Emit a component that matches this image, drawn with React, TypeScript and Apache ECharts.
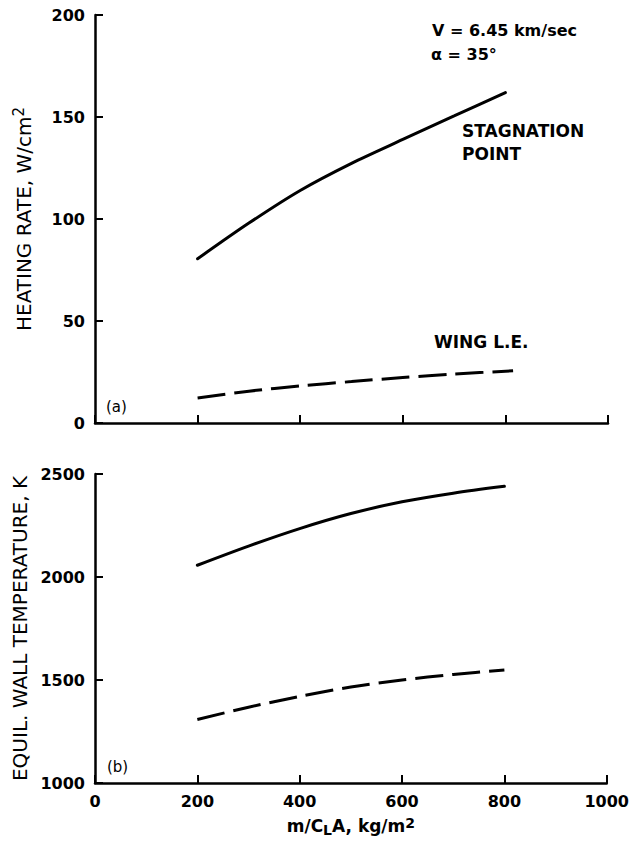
import React, { useEffect, useRef } from "react";
import * as echarts from "echarts";

// ---- data ----
const xTicks = [0, 200, 400, 600, 800, 1000];
const heatStagX = [200, 300, 400, 500, 600, 700, 800];
const heatStagnation = [80.5, 98, 114, 127.3, 139, 150.5, 162];
const heatWingX = [200, 300, 400, 500, 600, 700, 815];
const heatWingLE = [12.3, 15.6, 18.2, 20.3, 22.3, 24, 25.6];
const tempStagX = [200, 300, 400, 500, 600, 700, 800];
const tempStagnation = [2057, 2150, 2235, 2308, 2365, 2407, 2440];
const tempWingX = [200, 300, 400, 500, 600, 700, 800];
const tempWingLE = [1308, 1368, 1420, 1466, 1500, 1527, 1548];
const heatTicks = [0, 50, 100, 150, 200];
const tempTicks = [1000, 1500, 2000, 2500];

const FONT = "'DejaVu Sans', 'Liberation Sans', Arial, sans-serif";

const pairs = (xs: number[], ys: number[]) => xs.map((x, i) => [x, ys[i]]);

export default function App() {
  const ref = useRef<HTMLDivElement>(null);
  useEffect(() => {
    if (!ref.current) return;
    const chart = echarts.init(ref.current, undefined, { renderer: "svg" });
    const axisLine = { show: true, lineStyle: { color: "#000", width: 2.5 } };
    const axisTick = { show: true, inside: true, length: 8, lineStyle: { color: "#000", width: 2 } };
    const tickLabel = {
      color: "#000",
      fontFamily: FONT,
      fontWeight: "bold" as const,
      fontSize: 16,
      formatter: (v: number) => String(v),
    };
    const xBase = {
      type: "value" as const,
      min: xTicks[0],
      max: xTicks[xTicks.length - 1],
      interval: 200,
      axisLine,
      axisTick,
      splitLine: { show: false },
    };
    const solid = { color: "#000", width: 3, type: "solid" as const, cap: "round" as const };
    const dashed = { color: "#000", width: 3, type: [28, 9] as any, cap: "butt" as const };
    const nameStyle = { color: "#000", fontFamily: FONT, fontSize: 20 };
    const rich = {
      sup: { fontFamily: FONT, fontSize: 15, color: "#000", padding: [0, 0, 10, 0] },
      sub: { fontFamily: FONT, fontSize: 14, fontWeight: "bold", color: "#000", padding: [8, 0, 0, 0] },
    };
    const richX = {
      sup: { fontFamily: FONT, fontSize: 14, fontWeight: "bold", color: "#000", padding: [0, 0, 6, 0] },
      sub: { fontFamily: FONT, fontSize: 14, fontWeight: "bold", color: "#000", padding: [8, 0, 0, 0] },
    };
    chart.setOption({
      animation: false,
      backgroundColor: "#fff",
      grid: [
        { left: 95, top: 15, width: 513, height: 408 },
        { left: 95, top: 474, width: 513, height: 309 },
      ],
      xAxis: [
        { ...xBase, gridIndex: 0, axisLabel: { show: false } },
        {
          ...xBase,
          gridIndex: 1,
          axisLabel: { ...tickLabel, margin: 10 },
          name: "m/C{sub|L}A, kg/m{sup|2}",
          nameLocation: "middle",
          nameGap: 32,
          nameTextStyle: { ...nameStyle, fontWeight: "bold", fontSize: 17, rich: richX },
        },
      ],
      yAxis: [
        {
          type: "value",
          gridIndex: 0,
          min: heatTicks[0],
          max: heatTicks[heatTicks.length - 1],
          interval: 50,
          axisLine,
          axisTick,
          splitLine: { show: false },
          axisLabel: { ...tickLabel, margin: 10 },
          name: "HEATING RATE, W/cm{sup|2}",
          nameLocation: "middle",
          nameRotate: 90,
          nameGap: 59,
          nameTextStyle: { ...nameStyle, rich },
        },
        {
          type: "value",
          gridIndex: 1,
          min: tempTicks[0],
          max: tempTicks[tempTicks.length - 1],
          interval: 500,
          axisLine,
          axisTick,
          splitLine: { show: false },
          axisLabel: { ...tickLabel, margin: 10 },
          name: "EQUIL. WALL TEMPERATURE, K",
          nameLocation: "middle",
          nameRotate: 90,
          nameGap: 58,
          nameTextStyle: { ...nameStyle },
        },
      ],
      series: [
        { type: "line", name: "Stagnation point (heating)", xAxisIndex: 0, yAxisIndex: 0, smooth: 0.3, symbol: "none", lineStyle: solid, data: pairs(heatStagX, heatStagnation) },
        { type: "line", name: "Wing L.E. (heating)", xAxisIndex: 0, yAxisIndex: 0, smooth: 0.3, symbol: "none", lineStyle: dashed, data: pairs(heatWingX, heatWingLE) },
        { type: "line", name: "Stagnation point (temperature)", xAxisIndex: 1, yAxisIndex: 1, smooth: 0.3, symbol: "none", lineStyle: solid, data: pairs(tempStagX, tempStagnation) },
        { type: "line", name: "Wing L.E. (temperature)", xAxisIndex: 1, yAxisIndex: 1, smooth: 0.3, symbol: "none", lineStyle: dashed, data: pairs(tempWingX, tempWingLE) },
      ],
      graphic: [
        { type: "text", left: 432, top: 22, style: { text: "V = 6.45 km/sec", fill: "#000", font: `bold 16px ${FONT}` } },
        { type: "text", left: 431, top: 46, style: { text: "α = 35°", fill: "#000", font: `bold 16px ${FONT}` } },
        { type: "text", left: 462, top: 122, style: { text: "STAGNATION", fill: "#000", font: `bold 17px ${FONT}` } },
        { type: "text", left: 462, top: 145, style: { text: "POINT", fill: "#000", font: `bold 17px ${FONT}` } },
        { type: "text", left: 434, top: 333, style: { text: "WING L.E.", fill: "#000", font: `bold 17px ${FONT}` } },
        { type: "text", left: 106, top: 399, style: { text: "(a)", fill: "#000", font: `15px ${FONT}` } },
        { type: "text", left: 107, top: 759, style: { text: "(b)", fill: "#000", font: `15px ${FONT}` } },
      ],
    });
    return () => chart.dispose();
  }, []);
  return (
    <div
      ref={ref}
      style={{ position: "absolute", left: 0, top: 0, width: 632, height: 842, background: "#fff" }}
    />
  );
}
